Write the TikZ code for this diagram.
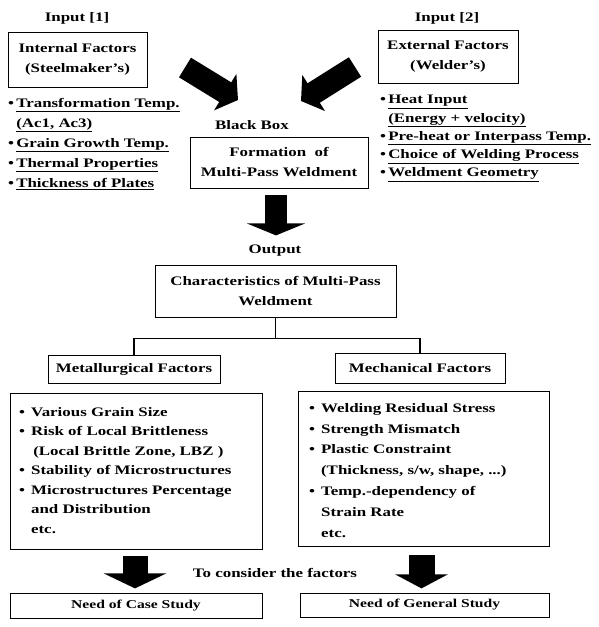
\documentclass[tikz,border=0pt]{standalone}
\usepackage{fontspec}
\setmainfont{Liberation Serif}[FakeStretch=1.3]
\usetikzlibrary{arrows.meta, positioning}
\newcommand{\bul}{\textbullet\hspace{6pt}}
\newcommand{\cont}{\phantom{\textbullet}\hspace{6pt}}

\begin{document}
\begin{tikzpicture}[x=1pt, y=-1pt,
    box/.style={rectangle, draw=black, line width=0.8pt, align=center, inner sep=2pt, font=\bfseries\fontsize{13}{20}\selectfont},
    tag/.style={font=\bfseries\fontsize{13}{16}\selectfont, inner sep=1pt},
    items/.style={anchor=north west, align=left, inner sep=0pt, font=\bfseries\fontsize{13}{20}\selectfont},
    bigarrow/.style={line width=22pt, -{Triangle[length=12pt, width=58pt]}},
    link/.style={line width=1.6pt}
]
\useasboundingbox (0,0) rectangle (598,627);

\node[tag] (in1) at (77,18) {Input [1]};
\node[box, minimum width=139pt, minimum height=55pt] (internal) at (77.5,59.5) {Internal Factors\\(Steelmaker's)};
\node[items] (inlist) at (8,98) {\textbullet\,\underline{Transformation Temp.}\\
    \phantom{\textbullet}\,\underline{(Ac1, Ac3)}\\
    \textbullet\,\underline{Grain Growth Temp.}\\
    \textbullet\,\underline{Thermal Properties}\\
    \textbullet\,\underline{Thickness of Plates}};

\node[tag] (in2) at (447,18) {Input [2]};
\node[box, minimum width=140pt, minimum height=53pt] (external) at (448,56.5) {External Factors\\(Welder's)};
\node[items, font=\bfseries\fontsize{13}{18.3}\selectfont] (exlist) at (380,95) {\textbullet\,\underline{Heat Input}\\
    \phantom{\textbullet}\,\underline{(Energy + velocity)}\\
    \textbullet\,\underline{Pre-heat or Interpass Temp.}\\
    \textbullet\,\underline{Choice of Welding Process}\\
    \textbullet\,\underline{Weldment Geometry}};

\node[tag] (blackbox) at (252,125) {Black Box};
\node[box, minimum width=178pt, minimum height=51pt] (weld) at (279,162.5) {Formation~~of\\Multi-Pass Weldment};

\coordinate (leftTail) at (185,67.5);
\coordinate (leftTip) at (238,100);
\coordinate (rightTail) at (355,67);
\coordinate (rightTip) at (301,101);
\draw[bigarrow, line width=23pt, -{Triangle[length=15pt, width=42pt]}] (leftTail) -- (leftTip);
\draw[bigarrow, line width=23pt, -{Triangle[length=15pt, width=42pt]}] (rightTail) -- (rightTip);
\draw[bigarrow] (weld.south) ++(-3,7) coordinate (downTail) -- ++(0,40) coordinate (downTip);

\node[tag] (output) at (275,251) {Output};
\node[box, minimum width=241pt, minimum height=52pt] (chars) at (275.5,291) {Characteristics of Multi-Pass\\Weldment};

\node[box, minimum width=172pt, minimum height=28pt] (metal) at (134,369) {Metallurgical Factors};
\node[box, minimum width=170pt, minimum height=30pt] (mech) at (420,368) {Mechanical Factors};
\draw[link] (chars.south) -- ++(0,21) coordinate (split);
\draw[link] (split) -| (metal.north);
\draw[link] (split) -| (mech.north);

\node[box, minimum width=252pt, minimum height=156pt] (metbox) at (136,471) {};
\node[items, font=\bfseries\fontsize{13}{19.5}\selectfont] (metlist) at (19,407) {\bul Various Grain Size\\
    \bul Risk of Local Brittleness\\
    \cont\,(Local Brittle Zone, LBZ )\\
    \bul Stability of Microstructures\\
    \bul Microstructures Percentage\\
    \cont and Distribution\\
    \cont etc.};

\node[box, minimum width=251pt, minimum height=155pt] (mecbox) at (423.5,468.5) {};
\node[items, font=\bfseries\fontsize{13}{20.8}\selectfont] (meclist) at (309,403) {\bul Welding Residual Stress\\
    \bul Strength Mismatch\\
    \bul Plastic Constraint\\
    \cont(Thickness, s/w, shape, ...)\\
    \bul Temp.-dependency of\\
    \cont Strain Rate\\
    \cont etc.};

\draw[bigarrow, line width=25pt, -{Triangle[length=15pt, width=62pt]}] (metbox.south) ++(-1,7) coordinate (caseTail) -- ++(0,32) coordinate (caseTip);
\draw[bigarrow, line width=26pt, -{Triangle[length=14pt, width=52pt]}] (mecbox.south) ++(-2,9) coordinate (genTail) -- ++(0,33) coordinate (genTip);
\node[tag] (consider) at (275,573) {To consider the factors};

\node[box, minimum width=252pt, minimum height=25pt, font=\bfseries\fontsize{12}{14}\selectfont] (casestudy) at (136,605.5) {Need of Case Study};
\node[box, minimum width=249pt, minimum height=24pt, font=\bfseries\fontsize{12}{14}\selectfont] (genstudy) at (424.5,605) {Need of General Study};
\end{tikzpicture}
\end{document}
